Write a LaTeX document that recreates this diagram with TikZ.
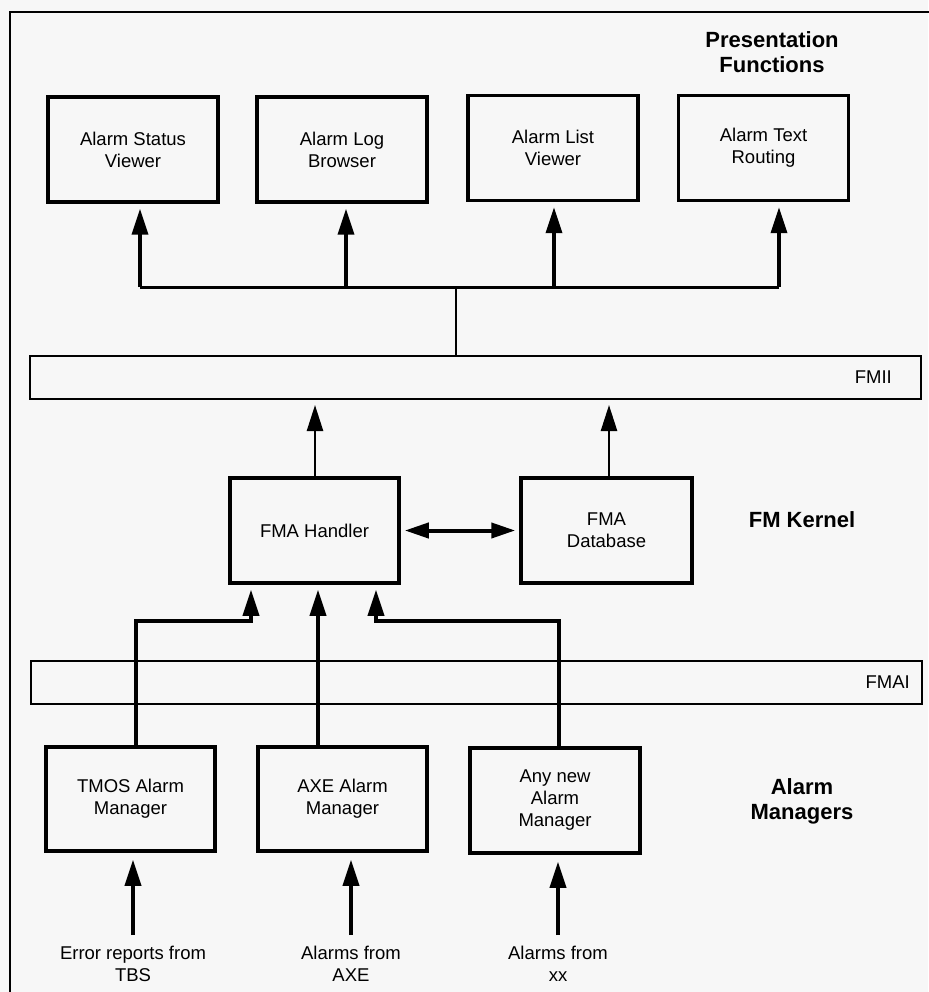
\documentclass[tikz,border=0pt]{standalone}
\usepackage{fontspec}
\setmainfont{Liberation Sans}
\usetikzlibrary{arrows.meta}

\tikzset{
  box/.style={draw,line width=3.5pt,minimum width=170pt,minimum height=105pt,inner sep=0pt,align=center,font=\fontsize{18.5}{22}\selectfont},
  bar/.style={draw,line width=2pt,minimum width=891pt,minimum height=43pt,inner sep=0pt},
  head/.style={align=center,font=\fontsize{22}{25}\selectfont\bfseries},
  txt/.style={align=center,inner sep=2pt,font=\fontsize{18.5}{22}\selectfont},
  arr/.style={line width=3.5pt,-{Triangle[length=26pt,width=16pt]},shorten >=5pt},
  dbl/.style={line width=4pt,{Triangle[length=24pt,width=15pt]}-{Triangle[length=24pt,width=15pt]},shorten >=4pt,shorten <=4pt},
}

\begin{document}
\begin{tikzpicture}[x=1pt,y=-1pt]
  \path[use as bounding box,fill=black!3] (0,0) rectangle (928,992);
  \draw[line width=2.5pt] (10,995) -- (10,12) -- (930,12);

  %Presentation functions
  \node[head] (pres) at (772,52) {Presentation\\Functions};
  \node[box] (status) at (133,149.5) {Alarm Status\\Viewer};
  \node[box] (logb) at (342,149.5) {Alarm Log\\Browser};
  \node[box] (list) at (553,148) {Alarm List\\Viewer};
  \node[box] (route) at (763.5,148) {Alarm Text\\Routing};

  \coordinate (hub) at (456,287);
  \coordinate (j1) at (140,287);
  \coordinate (j2) at (346,287);
  \coordinate (j3) at (554,287);
  \coordinate (j4) at (779,287);
  \draw[line width=3pt] (j1) -- (j4);
  \draw[arr] (j1) -- (j1 |- status.south);
  \draw[arr] (j2) -- (j2 |- logb.south);
  \draw[arr] (j3) -- (j3 |- list.south);
  \draw[arr] (j4) -- (j4 |- route.south);

  %FMII
  \node[bar] (fmii) at (475.5,377.5) {};
  \node[txt,anchor=east] (fmiilab) at ([xshift=-28pt]fmii.east) {FMII};
  \draw[line width=2pt] (hub) -- (hub |- fmii.north);

  %FM Kernel
  \node[box,minimum width=169pt] (handler) at (314.5,530.5) {FMA Handler};
  \node[box,minimum width=171pt] (fmadb) at (606.5,530.5) {FMA\\Database};
  \node[head] (kernel) at (802,520) {FM Kernel};
  \draw[arr,line width=2.5pt] ([xshift=0.5pt]handler.north) -- ([xshift=0.5pt]handler.north |- fmii.south);
  \draw[arr,line width=2.5pt] ([xshift=2.5pt]fmadb.north) -- ([xshift=2.5pt]fmadb.north |- fmii.south);
  \draw[dbl] (handler.east) -- (fmadb.west);

  %FMAI
  \node[bar] (fmai) at (476.5,682.5) {};
  \node[txt,anchor=east] (fmailab) at ([xshift=-11pt]fmai.east) {FMAI};

  %Alarm managers
  \node[box,minimum width=169pt,minimum height=104pt] (tmos) at (130.5,799) {TMOS Alarm\\Manager};
  \node[box,minimum width=169pt,minimum height=104pt] (axe) at (342.5,799) {AXE Alarm\\Manager};
  \node[box] (anynew) at (555,800.5) {Any new\\Alarm\\Manager};
  \node[head] (mgrs) at (802,801) {Alarm\\Managers};

  \coordinate (bendL) at (136,621);
  \coordinate (bendR) at (559,621);
  \coordinate (midin) at ([xshift=3.5pt]handler.south);
  \draw[arr] (bendL |- tmos.north) -- (bendL) -| ([xshift=-63.5pt]handler.south);
  \draw[arr] (midin |- axe.north) -- (midin);
  \draw[arr] (bendR |- anynew.north) -- (bendR) -| ([xshift=61.5pt]handler.south);

  %inputs
  \node[txt] (tbs) at (133,964) {Error reports from\\TBS};
  \node[txt] (axein) at (351,964) {Alarms from\\AXE};
  \node[txt] (xxin) at (558,964) {Alarms from\\xx};
  \draw[arr,shorten <=9pt,shorten >=7pt] (tbs.north) -- (tbs.north |- tmos.south);
  \draw[arr,shorten <=9pt,shorten >=7pt] (axein.north) -- (axein.north |- axe.south);
  \draw[arr,shorten <=9pt,shorten >=7pt] (xxin.north) -- (xxin.north |- anynew.south);

\end{tikzpicture}
\end{document}
